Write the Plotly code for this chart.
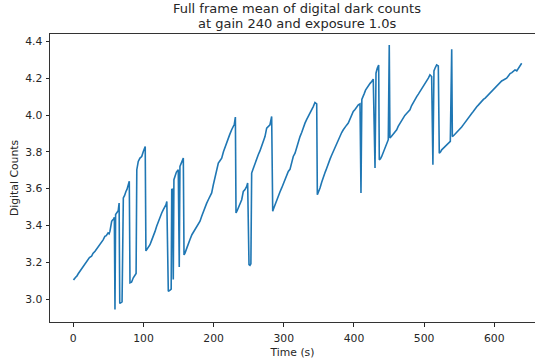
import plotly.graph_objects as go

# Acquisition time of each frame (s)
time_s = [
    0, 1, 3, 5, 7, 9.5, 12, 14.3, 16.5, 19, 21, 23, 26, 28, 31, 33, 35.6, 38, 40.5, 42.5,
    45, 47, 49.5, 51, 52.2, 53.5, 54.7, 56, 57.5, 58.5, 59.4, 60.3, 62, 64, 65.3,
    66.2, 67.5, 69.5, 71.3, 73, 75, 76.5, 78.4, 79.8,
    80.8, 83, 85.5, 88, 89.5, 90.5, 92.6, 95, 97.5, 99.8, 101, 102.5,
    103.5, 105, 107, 109.3, 111.5, 114, 116.5, 118.8, 121, 123.6, 126, 128.3, 130.5, 132.1, 133.3,
    135.4, 137.5, 139.5, 140.3, 141.5, 142.5, 143.4, 145, 147, 149.6, 151, 152, 154, 156.8,
    157.8, 159.2, 162, 164, 166.3, 169, 171, 173.4, 176, 178, 180.6, 183, 185, 187.7, 190,
    192.4, 195, 197.2, 199.5, 202, 204.5, 206.7, 209, 211.5, 214, 216.2, 218.5, 220.9, 223,
    225.7, 228, 229.5, 231,
    231.9, 233.5, 235.2, 237.5, 240, 242.3, 244.7, 247.1, 248.5,
    250.4, 251.8, 253.1, 254.2, 256.5, 258.9, 261, 263.6, 266, 268.5, 271, 273.2, 275.6, 278,
    280.3, 282.7,
    284.2, 285.8, 287.4, 290, 292.1, 294.5, 297, 299.5, 301.7, 304, 306.4, 308.8, 311, 313.5,
    316, 318.5, 321, 323.1, 325.5, 328, 330.2, 332.5, 335, 337.3, 339.5, 342, 344.4, 346.9,
    347.8, 349.5, 351.6, 354, 356.3, 359, 361, 363.4, 366, 368, 370.5, 373, 375.5, 377.7, 380,
    382.5, 384.8, 387, 389.5, 391.9, 394.5, 396.5, 399, 401.5, 404, 406.2, 408.6,
    410, 411.2, 412.4, 414.5, 416.5, 418.1, 420.5, 423, 425.3, 427.5,
    430, 431.4, 433.2, 435.2,
    436.1, 437.8, 439.5, 442, 444.2, 446.5, 448.9,
    450.3, 451.3, 453.5, 456, 458.5, 460.9, 463, 465.5, 468, 470.3, 472.5, 475, 477.5, 479.8,
    482, 484.5, 487, 489.4, 492, 494.1, 496.5, 498.8, 501, 503.6, 506, 508.3, 510.7,
    512.5, 514, 515.5, 517.8, 520.2,
    521.6, 523.5, 525, 527.5, 529.7, 532, 534.4, 537.3,
    539.3, 540.2, 542.5, 545, 548, 551.1, 553.5, 556, 558.5, 560.7, 563, 565.5, 568, 570,
    572.5, 575, 577.5, 579.6, 582, 584.5, 587, 589.1, 591.5, 594, 596, 598.5, 601, 603.5,
    606, 608.1, 610.5, 613, 615.5, 617.6, 620, 622.5, 625, 627, 629.5, 632, 634.2, 636.5, 639,
]

# Full-frame mean dark level (digital counts)
mean_counts = [
    3.110, 3.107, 3.118, 3.125, 3.138, 3.152, 3.160, 3.179, 3.188, 3.206, 3.212, 3.226, 3.233,
    3.248, 3.260, 3.270, 3.287, 3.295, 3.314, 3.322,
    3.341, 3.345, 3.360, 3.355, 3.368, 3.400, 3.423, 3.430, 3.435, 3.445, 2.944, 3.460, 3.470,
    3.480, 3.522,
    2.977, 2.980, 2.985, 3.550, 3.562, 3.585, 3.596, 3.622, 3.640,
    3.089, 3.092, 3.116, 3.134, 3.140, 3.703, 3.748, 3.766, 3.775, 3.802, 3.812, 3.829,
    3.262, 3.270, 3.282, 3.296, 3.318, 3.341, 3.368, 3.396, 3.420, 3.450, 3.468, 3.486, 3.500,
    3.513, 3.531,
    3.043, 3.048, 3.055, 3.595, 3.600, 3.107, 3.649, 3.668, 3.690, 3.703, 3.175, 3.721, 3.740,
    3.766,
    3.240, 3.250, 3.280, 3.305, 3.324, 3.350, 3.362, 3.378, 3.398, 3.410, 3.423, 3.450, 3.472,
    3.495, 3.520,
    3.540, 3.558, 3.577, 3.620, 3.667, 3.705, 3.739, 3.752, 3.766, 3.800, 3.826, 3.848, 3.870,
    3.895,
    3.920, 3.945, 3.950, 3.989,
    3.468, 3.480, 3.495, 3.520, 3.540, 3.585, 3.595, 3.612, 3.631,
    3.188, 3.184, 3.192, 3.685, 3.710, 3.739, 3.760, 3.784, 3.805, 3.829, 3.860, 3.883, 3.929,
    3.938, 3.947, 3.992,
    3.477, 3.495, 3.513, 3.535, 3.558, 3.582, 3.604, 3.628, 3.649, 3.672, 3.694, 3.705, 3.745,
    3.775, 3.793, 3.830, 3.860, 3.883, 3.905, 3.935, 3.956, 3.975, 3.992, 4.010, 4.030, 4.046,
    4.068, 4.061,
    3.567, 3.580, 3.604, 3.635, 3.667, 3.690, 3.710, 3.739, 3.762, 3.780, 3.802, 3.828, 3.850,
    3.866, 3.885, 3.905, 3.920, 3.935, 3.945, 3.956, 3.980, 4.000, 4.019, 4.030, 4.045, 4.055,
    4.060,
    3.577, 4.085, 4.100, 4.115, 4.135, 4.146, 4.160, 4.172, 4.182, 4.195,
    3.712, 4.227, 4.254, 4.272,
    3.757, 3.762, 3.775, 3.800, 3.821, 3.845, 3.866,
    4.380, 3.875, 3.885, 3.898, 3.910, 3.920, 3.938, 3.955, 3.968, 3.983, 3.998, 4.008, 4.020,
    4.028, 4.050, 4.070, 4.085, 4.100, 4.115, 4.127, 4.140, 4.154, 4.165, 4.182, 4.200, 4.218,
    4.209,
    3.730, 4.240, 4.254, 4.272, 4.266,
    3.793, 3.800, 3.811, 3.820, 3.829, 3.840, 3.848, 3.857,
    4.357, 3.883, 3.890, 3.900, 3.910, 3.920, 3.935, 3.948, 3.962, 3.974, 3.988, 3.998, 4.010,
    4.019, 4.035, 4.045, 4.055, 4.065, 4.075, 4.085, 4.092, 4.100, 4.110, 4.120, 4.130, 4.137,
    4.148, 4.160, 4.165, 4.173, 4.185, 4.190, 4.195, 4.200, 4.212, 4.225, 4.230, 4.236, 4.245,
    4.240, 4.254, 4.262, 4.281,
]

x_ticks = [0, 100, 200, 300, 400, 500, 600]
y_ticks = [3.0, 3.2, 3.4, 3.6, 3.8, 4.0, 4.2, 4.4]

title_lines = ["Full frame mean of digital dark counts", "at gain 240 and exposure 1.0s"]

FONT = "DejaVu Sans"
INK = "#262626"
LABEL_SIZE = 10.8
TITLE_SIZE = 13

fig = go.Figure(
    go.Scatter(
        x=time_s,
        y=mean_counts,
        mode="lines",
        line=dict(color="#1f77b4", width=1.6),
        showlegend=False,
    )
)

# Two-line title, each line placed above the axes
for line_text, shift in zip(title_lines, [25.5, 11.0]):
    fig.add_annotation(
        text=line_text,
        xref="paper", yref="paper",
        x=0.509, y=1,
        xanchor="center", yanchor="middle",
        yshift=shift,
        showarrow=False,
        font=dict(family=FONT, size=TITLE_SIZE, color=INK),
    )

fig.update_layout(
    width=535,
    height=360,
    margin=dict(l=50, r=0, t=34, b=38),
    paper_bgcolor="white",
    plot_bgcolor="white",
    font=dict(family=FONT, size=LABEL_SIZE, color=INK),
)

fig.update_xaxes(
    range=[-33.2, 658],
    tickvals=x_ticks,
    ticks="outside",
    ticklen=3.5,
    tickcolor=INK,
    ticklabelstandoff=3,
    showline=True,
    linecolor="#333333",
    linewidth=1,
    mirror=True,
    showgrid=False,
    zeroline=False,
    title=dict(text="Time (s)", font=dict(family=FONT, size=LABEL_SIZE, color=INK), standoff=3),
)

fig.update_yaxes(
    range=[2.876, 4.440],
    tickvals=y_ticks,
    tickformat=".1f",
    ticks="outside",
    ticklen=3.5,
    tickcolor=INK,
    ticklabelstandoff=1,
    showline=True,
    linecolor="#333333",
    linewidth=1,
    mirror=False,
    showgrid=False,
    zeroline=False,
    title=dict(text="Digital Counts", font=dict(family=FONT, size=LABEL_SIZE, color=INK), standoff=4),
)

fig.write_html("out.html")
